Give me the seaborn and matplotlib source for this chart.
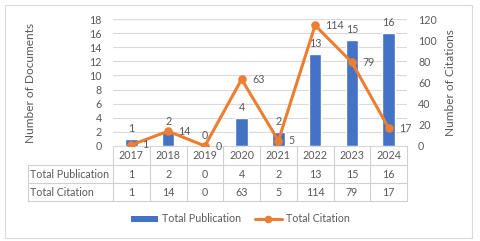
import matplotlib
matplotlib.use("Agg")
import matplotlib.pyplot as plt
import seaborn as sns
import pandas as pd
from matplotlib.lines import Line2D
from matplotlib.patches import Patch, Rectangle
from matplotlib.transforms import blended_transform_factory

years = ["2017", "2018", "2019", "2020", "2021", "2022", "2023", "2024"]
publications = [1, 2, 0, 4, 2, 13, 15, 16]
citations = [1, 14, 0, 63, 5, 114, 79, 17]
row_labels = ["Total Publication", "Total Citation"]

BLUE = "#4472C4"
ORANGE = "#ED7D31"
TXT = "#595959"
GRID = "#D9D9D9"

sns.set_theme(style="white")
plt.rcParams["font.family"] = ["Lato", "DejaVu Sans"]
FS = 7.7

W, H = 480, 241
fig = plt.figure(figsize=(W / 100, H / 100), dpi=100)

def fx(px):
    return px / W

def fy(py):
    return 1 - py / H

L, R, T, B = 113, 407, 19, 146
ax = fig.add_axes([fx(L), fy(B), fx(R) - fx(L), fy(T) - fy(B)])
df = pd.DataFrame({"year": years, "pub": publications, "cit": citations})

sns.barplot(data=df, x="year", y="pub", ax=ax, color=BLUE, width=0.34,
            saturation=1, order=years)
ax.set_ylim(0, 18)
ax.set_yticks(range(0, 19, 2))
ax.set_xlim(-0.5, 7.5)
ax.grid(axis="y", color=GRID, linewidth=0.8)
ax.set_axisbelow(True)
for s in ["top", "right", "left"]:
    ax.spines[s].set_visible(False)
ax.spines["bottom"].set_color(GRID)
ax.spines["bottom"].set_linewidth(0.8)
ax.tick_params(axis="y", length=0, pad=8, labelsize=FS, labelcolor=TXT)
ax.set_xticks([])
ax.set_xlabel("")
ax.set_ylabel("")
for c in ax.containers:
    ax.bar_label(c, padding=3.5, fontsize=FS, color=TXT)

ax2 = ax.twinx()
sns.pointplot(data=df, x="year", y="cit", ax=ax2, color=ORANGE, order=years,
              markers="o", markersize=4.5, linewidth=2.2)
ax2.set_ylim(0, 120)
ax2.set_yticks(range(0, 121, 20))
ax2.set_xlim(-0.5, 7.5)
for s in ax2.spines.values():
    s.set_visible(False)
ax2.tick_params(axis="y", length=0, pad=8, labelsize=FS, labelcolor=TXT)
ax2.set_xticks([])
ax2.set_xlabel("")
ax2.set_ylabel("")
for i, v in enumerate(citations):
    ax2.annotate(str(v), (i, v), xytext=(7.5, 0), textcoords="offset points",
                 ha="left", va="center", fontsize=FS, color=TXT)

fig.text(fx(31), fy(83), "Number of Documents", rotation=90, ha="center",
         va="center", fontsize=8.6, color=TXT)
fig.text(fx(450), fy(83), "Number of Citations", rotation=90, ha="center",
         va="center", fontsize=8.6, color=TXT)

# data table
tr = blended_transform_factory(ax.transData, fig.transFigure)
lc = "#D0D0D0"
lw = 0.8
row_y = [165, 183, 201]
for i in range(len(years) + 1):
    x = i - 0.5
    fig.add_artist(Line2D([x, x], [fy(B), fy(201)], transform=tr, color=lc, lw=lw))
for yy in row_y:
    fig.add_artist(Line2D([fx(28), fx(R)], [fy(yy), fy(yy)], color=lc, lw=lw))
fig.add_artist(Line2D([fx(28), fx(28)], [fy(165), fy(201)], color=lc, lw=lw))
for i, y in enumerate(years):
    fig.text(i, fy(155.5), y, transform=tr, ha="center", va="center",
             fontsize=FS, color=TXT)
for r, (lab, vals) in enumerate(zip(row_labels, [publications, citations])):
    yc = fy((row_y[r] + row_y[r + 1]) / 2)
    fig.text(fx(30), yc, lab, ha="left", va="center", fontsize=FS, color=TXT)
    for i, v in enumerate(vals):
        fig.text(i, yc, str(v), transform=tr, ha="center", va="center",
                 fontsize=FS, color=TXT)

handles = [Patch(facecolor=BLUE, edgecolor="none"),
           Line2D([], [], color=ORANGE, lw=2.2, marker="o", markersize=4.5)]
fig.legend(handles, row_labels, loc="center", bbox_to_anchor=(fx(240), fy(219)),
           ncol=2, frameon=False, fontsize=FS, labelcolor=TXT,
           handlelength=2.6, handleheight=0.45, columnspacing=1.3, handletextpad=0.3)

fig.add_artist(Rectangle((fx(5), fy(238)), fx(472) - fx(5), fy(5) - fy(238),
                         transform=fig.transFigure, fill=False,
                         edgecolor="#D9D9D9", lw=0.8))

fig.savefig("out.png", dpi=100, facecolor="white")
